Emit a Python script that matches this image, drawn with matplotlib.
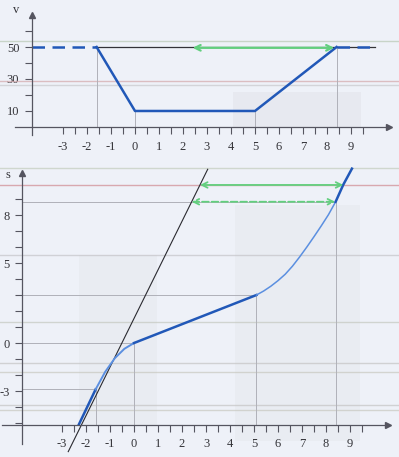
import numpy as np
from matplotlib import pyplot as plt
from matplotlib.ticker import FixedLocator, FixedFormatter

# top panel: velocity v over time
v_t = [-4.3, -1.6, 0.0, 5.0, 8.4, 10.0]
v_vals = [50, 50, 10, 10, 50, 50]
v_ticks = [10, 20, 30, 40, 50, 60]
v_labels = ['10', '', '30', '', '50', '']
v_arrow = (2.4, 8.3, 49.5)

# bottom panel: position s over time
s_lead_t = [-2.3, -1.6]
s_lead = [-5.1, -2.9]
s_dec_t = [-1.6, -1.2, -0.8, -0.4, 0.0]
s_dec = [-2.9, -1.8, -0.95, -0.36, 0.0]
s_const_t = [0.0, 5.1]
s_const = [0.0, 3.0]
s_acc_t = [5.1, 5.4, 5.7, 6.0, 6.3, 6.6, 6.9, 7.2, 7.5, 7.8, 8.1, 8.4]
s_acc = [3.0, 3.25, 3.55, 3.9, 4.3, 4.8, 5.38, 6.0, 6.65, 7.32, 8.02, 8.83]
s_tail_t = [8.4, 8.72, 9.08]
s_tail = [8.83, 9.9, 10.9]
tangent_t = [-2.74, 3.07]
tangent_s = [-6.79, 10.86]
s_marks_t = [-1.6, 0.0, 5.1, 8.4]
s_marks = [-2.9, 0.0, 3.0, 8.83]
s_ticks = list(range(-5, 10))
s_labels = {8: '8', 5: '5', 0: '0', -3: '-3'}
s_arrows = [(2.75, 8.72, 9.88, '-'), (2.4, 8.38, 8.83, '--')]

x_ticks = np.arange(-3, 10, 0.5)
x_labels = [str(int(x)) if x == int(x) else '' for x in x_ticks]

# faint scan streaks
top_streaks = [(53.75, '#b9c9b4'), (28.75, '#d4a7aa'), (26.2, '#c8c8cc')]
bot_streaks = [(10.94, '#c3ccbd'), (9.88, '#d08a90'), (5.5, '#c4c4c8'),
               (1.3, '#c4c8c0'), (-1.25, '#c4c4c4'), (-1.8, '#c8c8c0'),
               (-3.9, '#c4c4c4'), (-4.2, '#c8c8c0')]

BG = '#eef1f8'
BLUE = '#2158b8'
LBLUE = '#5b8fe0'
GREEN = '#62cf7e'
GUIDE = '#b0b1b9'
plt.rcParams['font.family'] = ['Liberation Serif', 'DejaVu Serif']

fig = plt.figure(figsize=(3.99, 4.57), dpi=100, facecolor=BG)
ax1 = fig.add_axes([0, 1 - 150 / 457, 1, 150 / 457])
ax2 = fig.add_axes([0, 0, 1, 297 / 457])

for ax in (ax1, ax2):
    ax.set_facecolor('none')
    for side in ('top', 'right'):
        ax.spines[side].set_visible(False)
    for side in ('left', 'bottom'):
        ax.spines[side].set_color('#555560')
        ax.spines[side].set_linewidth(0.9)
    ax.tick_params(colors='#555560', labelcolor='#333338', labelsize=9,
                   width=0.8)
    ax.xaxis.set_major_locator(FixedLocator(x_ticks))
    ax.xaxis.set_major_formatter(FixedFormatter(x_labels))
    ax.tick_params(axis='x', direction='out', length=5, pad=5)
    ax.tick_params(axis='y', direction='out', length=5, pad=4)

# ---- top panel
ax1.set_xlim(-5.625, 11.0)
ax1.set_ylim(-14.4, 79.4)
ax1.spines['left'].set_position(('data', -4.3))
ax1.spines['bottom'].set_position(('data', 0))
ax1.spines['left'].set_bounds(-5, 70)
ax1.spines['bottom'].set_bounds(-5.0, 10.6)
ax1.yaxis.set_major_locator(FixedLocator(v_ticks))
ax1.yaxis.set_major_formatter(FixedFormatter(v_labels))
ax1.plot(-4.3, 70, '^', color='#555560', ms=5, clip_on=False)
ax1.plot(10.6, 0, '>', color='#555560', ms=5, clip_on=False)
ax1.text(-5.1, 71, 'v', fontsize=9, color='#333338')

ax1.axvspan(4.1, 9.4, ymin=14.4 / 93.8, ymax=(14.4 + 22) / 93.8,
            color='#d8d9de', alpha=0.3, lw=0)
for y, c in top_streaks:
    ax1.axhline(y, color=c, lw=1.0, alpha=0.7)

ax1.vlines(v_t[1:5], 0, v_vals[1:5], color=GUIDE, lw=0.7)
ax1.plot([v_t[1], v_t[-1]], [v_vals[1], v_vals[-1]], color='#333338', lw=0.9)
ax1.plot(v_t[1:5], v_vals[1:5], color=BLUE, lw=1.8)
ax1.plot(v_t[:2], v_vals[:2], color=BLUE, lw=1.8, dashes=(5, 3))
ax1.plot(v_t[4:], v_vals[4:], color=BLUE, lw=1.8, dashes=(5, 3))
ax1.annotate('', xy=(v_arrow[0], v_arrow[2]), xytext=(v_arrow[1], v_arrow[2]),
             arrowprops=dict(arrowstyle='<->', color=GREEN, lw=1.6,
                             shrinkA=0, shrinkB=0))

# ---- bottom panel
ax2.set_xlim(-5.583, 11.04)
ax2.set_ylim(-7.125, 11.44)
ax2.spines['left'].set_position(('data', -4.65))
ax2.spines['bottom'].set_position(('data', -5.1))
ax2.spines['left'].set_bounds(-6.3, 10.6)
ax2.spines['bottom'].set_bounds(-5.5, 10.6)
ax2.yaxis.set_major_locator(FixedLocator(s_ticks))
ax2.yaxis.set_major_formatter(FixedFormatter([s_labels.get(k, '') for k in s_ticks]))
ax2.plot(-4.65, 10.6, '^', color='#555560', ms=5, clip_on=False)
ax2.plot(10.6, -5.1, '>', color='#555560', ms=5, clip_on=False)
ax2.text(-5.35, 10.3, 's', fontsize=9, color='#333338')

ax2.axvspan(-2.3, 0.95, ymin=(7.125 - 5.1) / 18.565, ymax=(7.125 + 5.5) / 18.565,
            color='#d8d9de', alpha=0.2, lw=0)
ax2.axvspan(4.2, 9.4, ymin=(7.125 - 6.1) / 18.565, ymax=(7.125 + 8.6) / 18.565,
            color='#d8d9de', alpha=0.2, lw=0)
for y, c in bot_streaks:
    ax2.axhline(y, color=c, lw=1.0, alpha=0.7)

ax2.vlines(s_marks_t, -5.1, s_marks, color=GUIDE, lw=0.7)
ax2.hlines(s_marks, -4.65, s_marks_t, color=GUIDE, lw=0.7)
ax2.plot(tangent_t, tangent_s, color='#2a2a30', lw=0.8)
ax2.plot(s_lead_t, s_lead, color=BLUE, lw=1.8)
ax2.plot(s_dec_t, s_dec, color=LBLUE, lw=1.4)
ax2.plot(s_const_t, s_const, color=BLUE, lw=1.8)
ax2.plot(s_acc_t, s_acc, color=LBLUE, lw=1.1)
ax2.plot(s_tail_t, s_tail, color=BLUE, lw=1.8)
for x0, x1, y, ls in s_arrows:
    ax2.annotate('', xy=(x0, y), xytext=(x1, y),
                 arrowprops=dict(arrowstyle='<->', color=GREEN, lw=1.3,
                                 linestyle=ls, shrinkA=0, shrinkB=0))

fig.savefig('out.png', dpi=100, facecolor=BG)
